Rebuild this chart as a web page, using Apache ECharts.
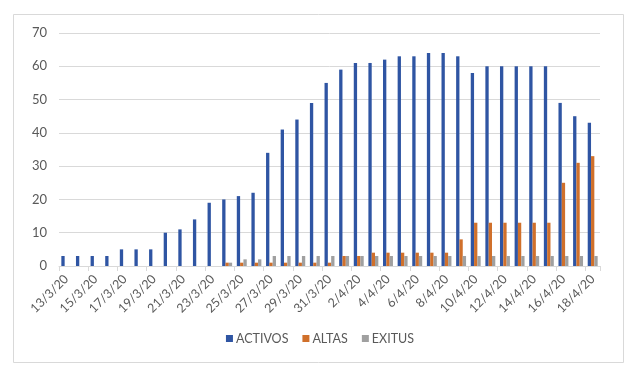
<!DOCTYPE html>
<html>
<head>
<meta charset="utf-8">
<script src="https://cdn.jsdelivr.net/npm/echarts@6/dist/echarts.min.js"></script>
<style>html,body{margin:0;padding:0;background:#fff}#c{width:640px;height:381px}</style>
</head>
<body>
<div id="c"></div>
<script>
const categories = ["13/3/20","14/3/20","15/3/20","16/3/20","17/3/20","18/3/20","19/3/20","20/3/20","21/3/20","22/3/20","23/3/20","24/3/20","25/3/20","26/3/20","27/3/20","28/3/20","29/3/20","30/3/20","31/3/20","1/4/20","2/4/20","3/4/20","4/4/20","5/4/20","6/4/20","7/4/20","8/4/20","9/4/20","10/4/20","11/4/20","12/4/20","13/4/20","14/4/20","15/4/20","16/4/20","17/4/20","18/4/20"];
const activos = [3,3,3,3,5,5,5,10,11,14,19,20,21,22,34,41,44,49,55,59,61,61,62,63,63,64,64,63,58,60,60,60,60,60,49,45,43];
const altas = [0,0,0,0,0,0,0,0,0,0,0,1,1,1,1,1,1,1,1,3,3,4,4,4,4,4,4,8,13,13,13,13,13,13,25,31,33];
const exitus = [0,0,0,0,0,0,0,0,0,0,0,1,2,2,3,3,3,3,3,3,3,3,3,3,3,3,3,3,3,3,3,3,3,3,3,3,3];
const seriesNames = ["ACTIVOS","ALTAS","EXITUS"];
const yTicks = {min:0, max:70, interval:10};

const font = 'Lato, "Open Sans", sans-serif';
const chart = echarts.init(document.getElementById('c'), null, {renderer:'canvas'});
chart.setOption({
  animation:false,
  backgroundColor:'#fff',
  textStyle:{fontFamily:font},
  graphic:[{type:'rect', shape:{x:13.5,y:14.5,width:610,height:348}, style:{fill:'none', stroke:'#d9d9d9', lineWidth:1}, silent:true}],
  grid:{left:59, right:40, top:33, bottom:115, containLabel:false},
  legend:{
    bottom:31, left:'center',
    itemWidth:7, itemHeight:7, itemGap:14,
    icon:'rect',
    textStyle:{fontSize:12.5, color:'#595959', fontFamily:font, padding:[0,0,0,-2]},
    data:seriesNames
  },
  xAxis:{
    type:'category', data:categories,
    axisLine:{lineStyle:{color:'#d9d9d9'}},
    axisTick:{show:true, interval:1, length:5, lineStyle:{color:'#d9d9d9'}},
    axisLabel:{interval:1, rotate:45, fontSize:12.5, color:'#595959', margin:11, fontFamily:font}
  },
  yAxis:{
    type:'value', min:yTicks.min, max:yTicks.max, interval:yTicks.interval,
    axisLine:{show:false}, axisTick:{show:false},
    splitLine:{lineStyle:{color:'#d9d9d9'}},
    axisLabel:{fontSize:13, color:'#595959', margin:12, fontFamily:font}
  },
  series:[
    {name:seriesNames[0], type:'bar', data:activos, itemStyle:{color:'#2F55A3'}, barGap:'0%', barCategoryGap:'32%'},
    {name:seriesNames[1], type:'bar', data:altas, itemStyle:{color:'#D0702B'}},
    {name:seriesNames[2], type:'bar', data:exitus, itemStyle:{color:'#A0A0A0'}}
  ]
});
</script>
</body>
</html>
